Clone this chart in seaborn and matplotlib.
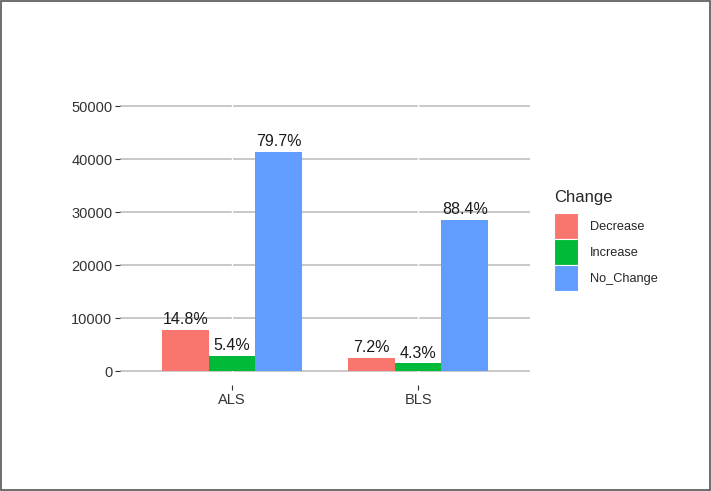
import pandas as pd
import matplotlib
matplotlib.use('Agg')
import matplotlib.pyplot as plt
import matplotlib.patches as mpatches
import seaborn as sns

# Values
groups = ['ALS', 'BLS']
changes = ['Decrease', 'Increase', 'No_Change']
decrease = [7750, 2450]
increase = [2830, 1500]
no_change = [41400, 28550]
pct_decrease = ['14.8%', '7.2%']
pct_increase = ['5.4%', '4.3%']
pct_no_change = ['79.7%', '88.4%']
palette = ['#F8766D', '#00BA38', '#619CFF']

data = pd.DataFrame({
    'Group': groups * 3,
    'Change': ['Decrease'] * 2 + ['Increase'] * 2 + ['No_Change'] * 2,
    'Count': decrease + increase + no_change,
})
pct_labels = [pct_decrease, pct_increase, pct_no_change]

sns.set_style('white')
plt.rcParams['font.family'] = ['Liberation Sans', 'DejaVu Sans']

fig = plt.figure(figsize=(7.11, 4.91), dpi=100)
ax = fig.add_axes([0.1688, 0.2159, 0.7454 - 0.1688, 0.8155 - 0.2159])

sns.barplot(data=data, x='Group', y='Count', hue='Change', hue_order=changes,
            palette=palette, width=0.75, saturation=1, ax=ax, legend=False,
            edgecolor='none', linewidth=0)

# ggplot-like grid
ax.set_axisbelow(True)
for y in range(0, 50001, 10000):
    ax.axhline(y, color='#c4c4c4', lw=1.3, zorder=0)
for x in range(len(groups)):
    ax.axvline(x, color='white', lw=1.0, zorder=0.5)

for cont, labs in zip(ax.containers, pct_labels):
    ax.bar_label(cont, labels=labs, padding=2, fontsize=11.5, color='#1a1a1a')

ax.set_xlim(-0.6, 1.6)
ax.set_ylim(-2600, 53000)
ax.set_yticks(range(0, 50001, 10000))
ax.set_xlabel('')
ax.set_ylabel('')
for s in ax.spines.values():
    s.set_visible(False)
ax.tick_params(axis='both', which='both', length=3.5, width=0.8, color='#333333',
               labelsize=10.5, labelcolor='#333333', pad=2,
               left=True, bottom=True)

handles = [mpatches.Patch(facecolor=c, edgecolor='white', linewidth=0.8) for c in palette]
leg = fig.legend(handles, changes, title='Change', loc='upper left',
                 bbox_to_anchor=(0.779, 0.614), frameon=False, fontsize=9.2,
                 title_fontsize=12, handlelength=1.9, handleheight=2.75,
                 labelspacing=0.0, handletextpad=0.9, borderpad=0, borderaxespad=0)
leg._legend_box.align = 'left'
leg._legend_box.sep = 6

fig.patches.append(mpatches.Rectangle((0.002, 0.002), 0.996, 0.996, transform=fig.transFigure,
                                      fill=False, edgecolor='#555555', linewidth=1.2))

fig.savefig('out.png', dpi=100)
